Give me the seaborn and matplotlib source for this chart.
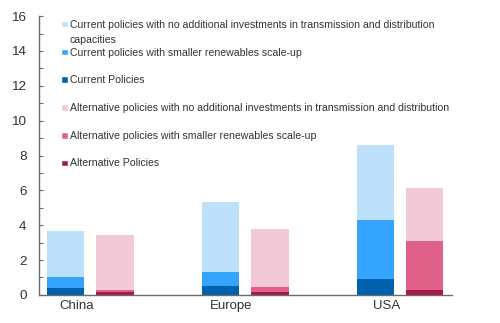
import matplotlib
matplotlib.use("Agg")
import matplotlib.pyplot as plt
from matplotlib import font_manager
from matplotlib.patches import Rectangle
import seaborn as sns
import pandas as pd
import numpy as np

regions = ["China", "Europe", "USA"]
policies = ["Current", "Alternative"]
# cumulative totals per layer (Current bar values, then Alternative bar values)
cur_no_invest = [3.64, 5.34, 8.62]
cur_smaller = [1.02, 1.30, 4.31]
cur_policies = [0.42, 0.50, 0.92]
alt_no_invest = [3.41, 3.79, 6.13]
alt_smaller = [0.30, 0.48, 3.10]
alt_policies = [0.15, 0.19, 0.30]

legend_labels = [
    "Current policies with no additional investments in transmission and distribution",
    "Current policies with smaller renewables scale-up",
    "Current Policies",
    "Alternative policies with no additional investments in transmission and distribution",
    "Alternative policies with smaller renewables scale-up",
    "Alternative Policies",
]
legend_extra = "capacities"

blues = ["#BEE1FB", "#34A4FE", "#0061AD"]
pinks = ["#F3C8D7", "#E0628A", "#A7184B"]

names = {f.name for f in font_manager.fontManager.ttflist}
narrow = "Liberation Sans Narrow" in names
fam = "Liberation Sans Narrow" if narrow else "Liberation Sans"

sns.set_theme(style="white")
plt.rcParams["font.family"] = [fam, "DejaVu Sans"]

fig = plt.figure(figsize=(5.0, 3.23), dpi=100)
ax = fig.add_axes([0.078, 0.087, 0.826, 0.863])

layers = [
    (cur_no_invest, alt_no_invest, 0),
    (cur_smaller, alt_smaller, 1),
    (cur_policies, alt_policies, 2),
]
for cur, alt, k in layers:
    df = pd.DataFrame({
        "region": regions * 2,
        "policy": ["Current"] * 3 + ["Alternative"] * 3,
        "value": list(cur) + list(alt),
    })
    sns.barplot(data=df, x="region", y="value", hue="policy",
                hue_order=policies, order=regions,
                palette=[blues[k], pinks[k]], width=0.64, gap=0.25,
                saturation=1, legend=False, ax=ax, linewidth=0)

ax.set_xlim(-0.33, 2.335)
ax.set_ylim(0, 16)
ax.set_yticks(np.arange(0, 17, 2))
ax.set_yticks(np.arange(1, 16, 2), minor=True)
ax.set_xticks([i - 0.09 for i in range(len(regions))])
ax.set_xticklabels(regions)
ax.set_xlabel("")
ax.set_ylabel("")
for s in ["top", "right"]:
    ax.spines[s].set_visible(False)
for s in ["left", "bottom"]:
    ax.spines[s].set_color("#6b6b6b")
    ax.spines[s].set_linewidth(1.0)
ax.tick_params(axis="y", which="both", direction="in", length=3, width=0.8,
               color="#6b6b6b", left=True, pad=9, labelsize=9.7, labelcolor="#333333")
ax.tick_params(axis="x", length=0, pad=4, labelsize=9.5, labelcolor="#333333")

# manual legend (figure pixel positions)
W, H = 500, 323
lsize = 8 if narrow else 7.6
ys = [24.5, 52.5, 80, 108, 136, 163.5]
cols = blues + pinks
for y, lab, c in zip(ys, legend_labels, cols):
    fig.patches.append(Rectangle(((62) / W, 1 - (y + 2.8) / H), 5.6 / W, 5.6 / H,
                                 transform=fig.transFigure, facecolor=c,
                                 edgecolor="white", linewidth=0.3))
    fig.text(70 / W, 1 - y / H, lab, ha="left", va="center", fontsize=lsize, color="#333333")
fig.text(70 / W, 1 - 40 / H, legend_extra, ha="left", va="center", fontsize=lsize, color="#333333")

fig.savefig("out.png", dpi=100)
